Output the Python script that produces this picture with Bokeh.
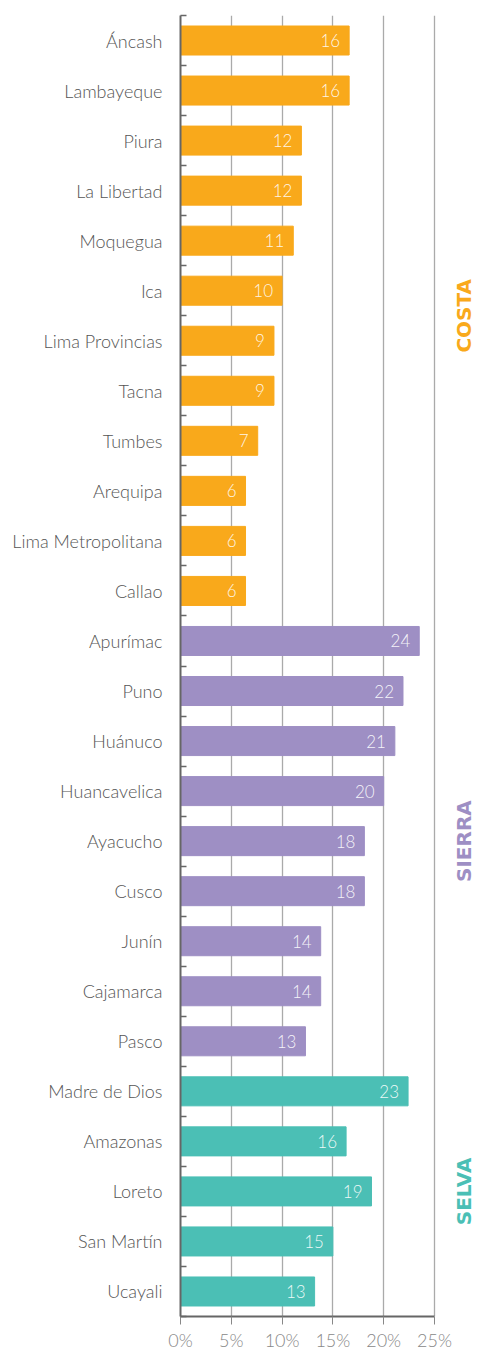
import math
from bokeh.plotting import figure
from bokeh.models import ColumnDataSource, FixedTicker, Range1d, PrintfTickFormatter
from bokeh.embed import file_html
from bokeh.resources import INLINE
from bokeh.core.properties import value

# ---- data ----
regions = ["Áncash", "Lambayeque", "Piura", "La Libertad", "Moquegua", "Ica",
           "Lima Provincias", "Tacna", "Tumbes", "Arequipa", "Lima Metropolitana", "Callao",
           "Apurímac", "Puno", "Huánuco", "Huancavelica", "Ayacucho", "Cusco", "Junín",
           "Cajamarca", "Pasco",
           "Madre de Dios", "Amazonas", "Loreto", "San Martín", "Ucayali"]
values = [16.6, 16.6, 11.9, 11.9, 11.1, 10.0, 9.2, 9.2, 7.6, 6.4, 6.4, 6.4,
          23.5, 21.9, 21.1, 20.0, 18.1, 18.1, 13.8, 13.8, 12.3,
          22.4, 16.3, 18.8, 15.0, 13.2]
labels = ["16", "16", "12", "12", "11", "10", "9", "9", "7", "6", "6", "6",
          "24", "22", "21", "20", "18", "18", "14", "14", "13",
          "23", "16", "19", "15", "13"]
groups = ["COSTA"] * 12 + ["SIERRA"] * 9 + ["SELVA"] * 5
group_names = ["COSTA", "SIERRA", "SELVA"]
group_colors = {"COSTA": "#F9A91B", "SIERRA": "#9E8FC4", "SELVA": "#4BBFB5"}
x_ticks = [0, 5, 10, 15, 20, 25]

FONT = "Lato Light"

n = len(regions)
ypos = list(range(n))  # 0 at top (range reversed)

src = ColumnDataSource(dict(
    y=ypos, v=values, lab=labels, name=regions,
    color=[group_colors[g] for g in groups],
))

# group label positions (centre of each group's categories)
gy, gx = [], []
for g in group_names:
    idx = [i for i in ypos if groups[i] == g]
    gy.append(sum(idx) / len(idx))
    gx.append(27.95)
gsrc = ColumnDataSource(dict(x=gx, y=gy, t=group_names,
                             c=[group_colors[g] for g in group_names]))

p = figure(width=480, height=1353, output_backend="svg", toolbar_location=None,
           x_range=Range1d(0, 29.53), y_range=Range1d(n - 0.5, -0.5),
           min_border_top=15, min_border_left=180, min_border_right=0, min_border_bottom=0)
p.outline_line_color = None
p.background_fill_color = "white"

p.hbar(y="y", right="v", left=0, height=0.58, color="color", source=src)
p.text(x="v", y="y", text="lab", source=src, x_offset=-9, text_align="right",
       text_baseline="middle", text_color="white", text_alpha=0.9,
       text_font=value(FONT), text_font_size="17px")
p.text(x="x", y="y", text="t", source=gsrc, angle=math.pi / 2, text_align="center",
       text_baseline="middle", text_color="c", text_font=value("DejaVu Sans"),
       text_font_style="bold", text_font_size="20px")

# y axis: labels at centres, boundary ticks as minor ticks
p.yaxis.ticker = FixedTicker(ticks=ypos, minor_ticks=[i - 0.5 for i in range(n + 1)])
p.yaxis.major_label_overrides = {i: regions[i] for i in ypos}
p.yaxis.major_tick_line_color = None
p.yaxis.minor_tick_in = 6
p.yaxis.minor_tick_out = 0
p.yaxis.minor_tick_line_color = "#666666"
p.yaxis.minor_tick_line_width = 1.5
p.yaxis.axis_line_color = "#666666"
p.yaxis.axis_line_width = 2
p.yaxis.major_label_standoff = 12
p.yaxis.major_label_text_font = FONT
p.yaxis.major_label_text_font_size = "18px"
p.yaxis.major_label_text_color = "#555555"
p.ygrid.grid_line_color = None

p.xaxis.ticker = FixedTicker(ticks=x_ticks, minor_ticks=[])
p.xaxis.bounds = (0, 25)
p.xaxis.formatter = PrintfTickFormatter(format="%d%%")
p.xaxis.axis_line_color = "#666666"
p.xaxis.axis_line_width = 2
p.xaxis.major_tick_in = 0
p.xaxis.major_tick_out = 8
p.xaxis.major_tick_line_color = "#888888"
p.xaxis.major_label_standoff = 4
p.xaxis.major_label_text_font = FONT
p.xaxis.major_label_text_font_size = "18px"
p.xaxis.major_label_text_color = "#888888"
p.xgrid.grid_line_color = "#AAAAAA"
p.xgrid.grid_line_width = 1.3

open("out.html", "w").write(file_html(p, INLINE))
